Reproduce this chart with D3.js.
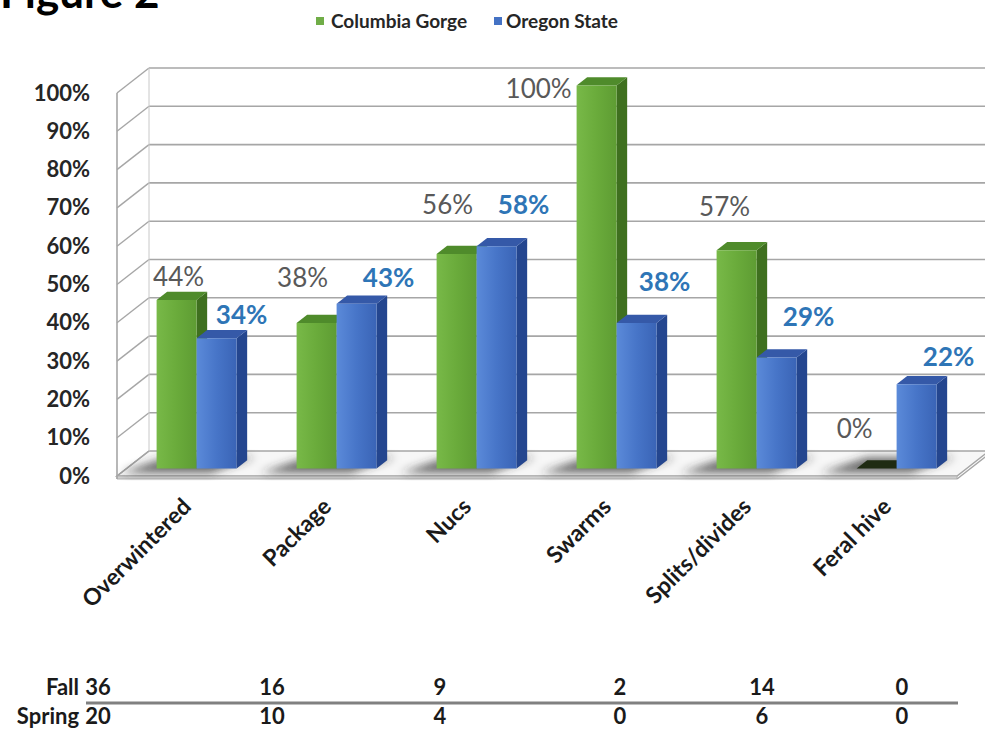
<!DOCTYPE html>
<html><head><meta charset="utf-8">
<script src="https://cdn.jsdelivr.net/npm/d3@7"></script>
<style>body{margin:0;background:#fff} svg{display:block}</style>
</head><body><svg id="c" width="985" height="734"></svg>
<script>
// ---- data ----
const categories = ["Overwintered","Package","Nucs","Swarms","Splits/divides","Feral hive"];
const seriesNames = ["Columbia Gorge","Oregon State"];
const columbiaGorge = [44,38,56,100,57,0];
const oregonState = [34,43,58,38,29,22];
const yTicks = [0,10,20,30,40,50,60,70,80,90,100];
const tableRows = ["Fall","Spring"];
const fallCounts = [36,16,9,2,14,0];
const springCounts = [20,10,4,0,6,0];

// ---- layout ----
const W = 985, H = 734;
const DX = 32, DY = 25, Z0 = 0.3, Z1 = 0.63;
const FONT = "Lato, 'Open Sans', sans-serif";
// label nudges (layout only) relative to bar front-top centre
const labelNudge = {
  "Columbia Gorge": [[2,-23],[-14,-45],[-9,-49],[-58,3],[-12,-43],[-22,-40]],
  "Oregon State":   [[25,-23],[32,-26],[27,-41],[28,-41],[32,-40],[32,-27]]
};

const svg = d3.select("#c");
const defs = svg.append("defs");
function grad(id, stops){
  const g = defs.append("linearGradient").attr("id", id).attr("x1",0).attr("x2",1).attr("y1",0).attr("y2",0);
  stops.forEach(([o,c]) => g.append("stop").attr("offset", o).attr("stop-color", c));
}
grad("gFront", [[0,"#78b948"],[0.5,"#6aab3b"],[1,"#5e9c33"]]);
grad("bFront", [[0,"#5b8ad9"],[0.5,"#4775c8"],[1,"#3a64b6"]]);
defs.append("filter").attr("id","blur").attr("x","-50%").attr("y","-50%").attr("width","200%").attr("height","200%")
  .append("feGaussianBlur").attr("stdDeviation", 4);

const colors = {
  "Columbia Gorge": {front:"url(#gFront)", side:"#3f701f", top:"#4f8b2b", legend:"#70ad47", label:"#595959", weight:400},
  "Oregon State":   {front:"url(#bFront)", side:"#24468f", top:"#3559a8", legend:"#4472c4", label:"#2e75b6", weight:700}
};
const seriesData = {"Columbia Gorge": columbiaGorge, "Oregon State": oregonState};

const x = d3.scaleBand().domain(categories).range([117, 957]);
const y = d3.scaleLinear().domain([0, 100]).range([476, 93]);
const sub = d3.scaleBand().domain(seriesNames).range([0, 80]);
const P = (px, v, z) => [px + z * DX, y(v) - z * DY];
const poly = pts => pts.map(p => p.join(",")).join(" ");
const x0 = x.range()[0], x1 = x.range()[1];

// ---- title (cropped at top, as in the source) ----
svg.append("text").attr("x", 0).attr("y", 8).attr("font-family", FONT).attr("font-weight", 700)
  .attr("font-size", 44).attr("fill", "#000").text("Figure 2");

// ---- legend ----
const leg = svg.append("g");
[[316,331],[494,506]].forEach(([sx,tx], i) => {
  const s = seriesNames[i];
  leg.append("rect").attr("x", sx).attr("y", 17).attr("width", 8).attr("height", 8).attr("fill", colors[s].legend);
  leg.append("text").attr("x", tx).attr("y", 28).attr("font-family", FONT).attr("font-weight", 700)
    .attr("font-size", 19).attr("fill", "#262626").text(s);
});

// ---- walls ----
const walls = svg.append("g");
walls.append("polygon").attr("points", poly([P(x0,0,0),P(x1,0,0),P(x1,0,1),P(x0,0,1)]))
  .attr("fill", "#f7f7f7").attr("stroke", "#a6a6a6").attr("stroke-width", 1.5);
walls.append("polygon").attr("points", poly([P(x0,0,0),P(x1,0,0),[P(x1,0,0)[0],P(x1,0,0)[1]+3],[P(x0,0,0)[0],P(x0,0,0)[1]+3]]))
  .attr("fill", "#d0d0d0").attr("stroke", "#b3b3b3").attr("stroke-width", 1);
yTicks.forEach(t => {
  if (t > 0) walls.append("line").attr("x1", P(x0,t,1)[0]).attr("y1", P(x0,t,1)[1])
    .attr("x2", P(x1,t,1)[0]).attr("y2", P(x1,t,1)[1]).attr("stroke", "#a6a6a6").attr("stroke-width", 1.6);
  walls.append("line").attr("x1", P(x0,t,0)[0]).attr("y1", P(x0,t,0)[1])
    .attr("x2", P(x0,t,1)[0]).attr("y2", P(x0,t,1)[1]).attr("stroke", "#a6a6a6").attr("stroke-width", 1.4);
});
walls.append("line").attr("x1", P(x0,0,0)[0]).attr("y1", P(x0,0,0)[1]+3).attr("x2", P(x0,100,0)[0]).attr("y2", P(x0,100,0)[1])
  .attr("stroke", "#a6a6a6").attr("stroke-width", 1.6);
walls.append("line").attr("x1", P(x0,0,1)[0]).attr("y1", P(x0,0,1)[1]).attr("x2", P(x0,100,1)[0]).attr("y2", P(x0,100,1)[1])
  .attr("stroke", "#c8c8c8").attr("stroke-width", 1);
walls.append("line").attr("x1", P(x1,0,0)[0]).attr("y1", P(x1,0,0)[1]+3).attr("x2", P(x1,0,1)[0]).attr("y2", P(x1,0,1)[1]+3)
  .attr("stroke", "#a6a6a6").attr("stroke-width", 1.5);

// ---- y axis labels ----
svg.append("g").selectAll("text").data(yTicks).join("text")
  .attr("x", 90).attr("y", d => y(d) + 7.5).attr("text-anchor", "end")
  .attr("font-family", FONT).attr("font-weight", 700).attr("font-size", 22).attr("fill", "#262626")
  .text(d => d + "%");

// ---- bars ----
const barX = (c, s) => x(c) + x.bandwidth() / 2 - sub.bandwidth() + sub(s);
const bw = sub.bandwidth();
const shadows = svg.append("g").attr("filter", "url(#blur)");
categories.forEach(c => {
  const bx = barX(c, seriesNames[0]);
  shadows.append("polygon").attr("points", poly([P(bx-30,0,0.12),P(bx+2*bw-20,0,0.12),P(bx+2*bw+4,0,0.75),P(bx-4,0,0.75)]))
    .attr("fill", "#2e2e2e").attr("opacity", 0.7);
});
const bars = svg.append("g");
categories.forEach((c, i) => {
  seriesNames.forEach(s => {
    const v = seriesData[s][i];
    const bx = barX(c, s);
    const col = colors[s];
    const g = bars.append("g");
    g.append("polygon").attr("points", poly([P(bx+bw,0,Z0),P(bx+bw,0,Z1),P(bx+bw,v,Z1),P(bx+bw,v,Z0)])).attr("fill", col.side);
    g.append("polygon").attr("points", poly([P(bx,v,Z0),P(bx+bw,v,Z0),P(bx+bw,v,Z1),P(bx,v,Z1)])).attr("fill", v === 0 ? "#1f2b12" : col.top);
    if (v > 0) g.append("polygon").attr("points", poly([P(bx,0,Z0),P(bx+bw,0,Z0),P(bx+bw,v,Z0),P(bx,v,Z0)])).attr("fill", col.front);
  });
});

// ---- data labels ----
const labels = svg.append("g");
categories.forEach((c, i) => {
  seriesNames.forEach(s => {
    const v = seriesData[s][i];
    const top = P(barX(c, s) + bw / 2, v, Z0);
    const [ndx, ndy] = labelNudge[s][i];
    labels.append("text").attr("x", top[0] + ndx).attr("y", top[1] + ndy + 9)
      .attr("text-anchor", "middle").attr("font-family", FONT).attr("font-size", 26)
      .attr("font-weight", colors[s].weight).attr("fill", colors[s].label).text(v + "%");
  });
});

// ---- category labels ----
svg.append("g").selectAll("text").data(categories).join("text")
  .attr("transform", d => `translate(${x(d) + x.bandwidth()/2 + Z0*DX - 4},${508}) rotate(-45)`)
  .attr("text-anchor", "end").attr("font-family", FONT).attr("font-weight", 700).attr("font-size", 23)
  .attr("fill", "#1a1a1a").text(d => d);

// ---- table ----
const colX = d3.scaleOrdinal().domain(categories).range([98, 272, 440, 620, 762, 902]);
const tbl = svg.append("g").attr("font-family", FONT).attr("font-weight", 700).attr("font-size", 22).attr("fill", "#1a1a1a");
const rowY = {"Fall": 695, "Spring": 724};
tableRows.forEach(r => {
  tbl.append("text").attr("x", 79).attr("y", rowY[r]).attr("text-anchor", "end").text(r);
  const vals = r === "Fall" ? fallCounts : springCounts;
  categories.forEach((c, i) => {
    tbl.append("text").attr("x", colX(c)).attr("y", rowY[r]).attr("text-anchor", "middle").text(vals[i]);
  });
});
tbl.append("line").attr("x1", 86).attr("x2", 958).attr("y1", 703).attr("y2", 703).attr("stroke", "#808080").attr("stroke-width", 3);
</script></body></html>
